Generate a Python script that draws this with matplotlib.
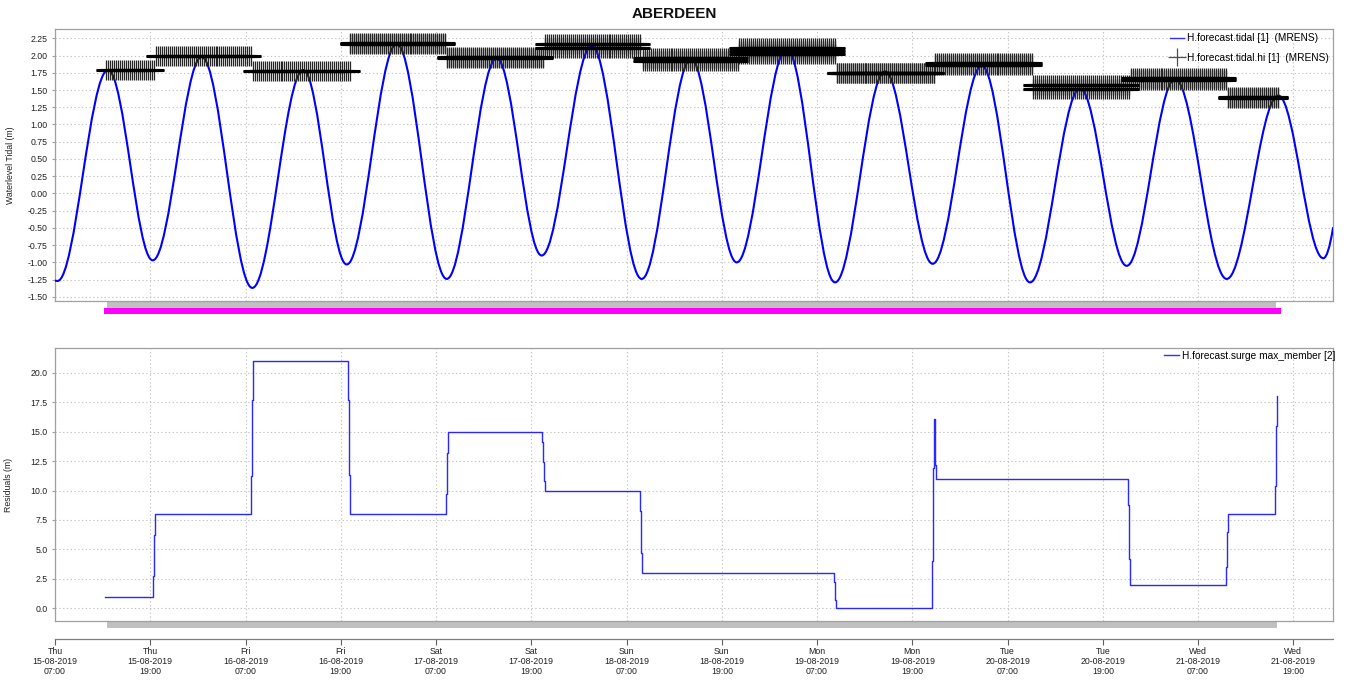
import numpy as np
import matplotlib
matplotlib.use('Agg')
import matplotlib.pyplot as plt
import matplotlib.dates as mdates
import matplotlib.transforms as mtransforms
from matplotlib.path import Path
from matplotlib.patches import PathPatch, Rectangle
from matplotlib.lines import Line2D
from datetime import datetime

plt.rcParams['font.family'] = ['Liberation Sans', 'DejaVu Sans']

# ---------------- data (hours after 15-08-2019 07:00) ----------------
START = datetime(2019, 8, 15, 7, 0)
END = datetime(2019, 8, 22, 0, 0)

# tidal curve: start, successive low / high waters, end
tide_hours = [0.0, 0.31, 6.68, 12.31, 18.48, 24.86, 31.28, 36.75, 43.05, 49.35,
              55.64, 61.31, 67.61, 73.91, 80.12, 85.88, 92.18, 98.27, 104.56,
              110.57, 116.75, 122.83, 129.13, 135.01, 141.10, 147.61, 154.11,
              159.78, 161.0]
tide_levels = [-1.265, -1.27, 1.79, -0.97, 1.98, -1.37, 1.79, -1.03, 2.17, -1.24,
               1.96, -0.90, 2.14, -1.24, 1.95, -1.00, 2.10, -1.29, 1.77,
               -1.02, 1.85, -1.29, 1.52, -1.05, 1.66, -1.24, 1.42,
               -0.94, -0.50]

# high-water ensemble markers: window start / end and member levels
hi_start_hours = [6.42, 12.72, 24.91, 37.16, 49.42, 61.73, 74.04, 86.21, 98.48,
                  110.86, 123.25, 135.52, 147.81]
hi_end_hours = [12.60, 24.78, 37.16, 49.26, 61.52, 73.79, 86.17, 98.35, 110.86,
                123.17, 135.34, 147.61, 154.11]
hi_levels = [[1.79], [2.00], [1.78], [2.18, 2.165], [1.985, 1.96], [2.17, 2.11],
             [1.96, 1.92], [2.11, 2.06, 2.02], [1.75, 1.74], [1.885, 1.87],
             [1.57, 1.51], [1.67, 1.645], [1.40, 1.39]]

# surge max member (step series)
surge_hours = [6.34, 12.38, 12.50, 12.63, 24.73, 24.86, 24.98, 36.95, 37.04, 37.13,
               49.22, 49.35, 49.47, 61.39, 61.52, 61.64, 61.77, 73.70, 73.82, 73.99,
               98.18, 98.30, 98.43, 110.52, 110.65, 110.77, 110.86, 110.90, 110.95,
               110.99, 135.21, 135.34, 135.47, 147.56, 147.69, 147.81, 153.70,
               153.82, 153.95, 153.96]
surge_values = [1.0, 2.7, 6.2, 8.0, 11.2, 17.7, 21.0, 17.7, 11.3, 8.0,
                9.7, 13.2, 15.0, 14.1, 12.4, 10.8, 10.0, 8.3, 4.7, 3.0,
                2.2, 0.7, 0.0, 4.0, 11.9, 16.1, 14.7, 12.2, 11.0,
                11.0, 8.8, 4.2, 2.0, 3.5, 6.5, 8.0, 10.4,
                15.5, 18.0, 18.0]

# data-availability bars under the plots
tidal_avail = (6.55, 153.8)
tidal_range_bar = (6.21, 154.4)
surge_avail = (6.55, 153.95)

tide_label = 'H.forecast.tidal [1]  (MRENS)'
hi_label = 'H.forecast.tidal.hi [1]  (MRENS)'
surge_label = 'H.forecast.surge max_member [2]'

# ---------------- helpers ----------------
t0 = mdates.date2num(START)


def to_num(h):
    return t0 + np.asarray(h, dtype=float) / 24.0


W, H = 1349, 681
fig = plt.figure(figsize=(W / 100, H / 100), dpi=100)
fig.patch.set_facecolor('white')

L, R = 55, 1333
ax1 = fig.add_axes([L / W, (H - 301) / H, (R - L) / W, 272 / H])
ax2 = fig.add_axes([L / W, (H - 621) / H, (R - L) / W, 273 / H])

spine_col = '#a0a0a0'
grid_kw = dict(color='#c4c4c4', linestyle=(0, (1.2, 2.2)), linewidth=0.8)
FS = 6.3
LFS = 7.3

for ax in (ax1, ax2):
    for s in ax.spines.values():
        s.set_color(spine_col)
        s.set_linewidth(0.9)
    ax.set_xlim(to_num(0), mdates.date2num(END))
    ax.xaxis.set_major_locator(mdates.HourLocator(byhour=[7, 19]))
    ax.tick_params(axis='x', length=0, labelbottom=False)
    ax.tick_params(axis='y', length=2.5, color=spine_col, labelsize=FS,
                   labelcolor='#202020', pad=3)
    ax.grid(True, **grid_kw)
    ax.set_axisbelow(True)

# ---------------- top: tidal ----------------
tx = to_num(tide_hours)
tz = np.asarray(tide_levels)
k = 1 - 2 / np.pi
verts = [(tx[0], tz[0])]
codes = [Path.MOVETO]
for i in range(len(tx) - 1):
    d = tx[i + 1] - tx[i]
    if i == len(tx) - 2:
        verts += [(tx[i] + 0.5 * d, tz[i]), (tx[i + 1], tz[i + 1])]
        codes += [Path.CURVE3] * 2
    else:
        verts += [(tx[i] + k * d, tz[i]), (tx[i + 1] - k * d, tz[i + 1]),
                  (tx[i + 1], tz[i + 1])]
        codes += [Path.CURVE4] * 3
ax1.add_patch(PathPatch(Path(verts, codes), fill=False, edgecolor='#0000ff',
                        linewidth=1.5, joinstyle='round', capstyle='round', zorder=3))

# high-water crosses: thin '+' markers, with the overlapping horizontal arms
# rendered as the heavy black bar seen in the source
for s, e, lvls in zip(hi_start_hours, hi_end_hours, hi_levels):
    hh = np.arange(s, e + 1e-6, 0.25)
    for lv in lvls:
        xs = to_num(hh)
        ys = np.full(len(hh), lv)
        ax1.plot(xs, ys, linestyle='none', marker='+', markersize=15,
                 markeredgewidth=0.9, color='#262626', zorder=4)
        ax1.plot(xs, ys, linestyle='none', marker='_', markersize=15,
                 markeredgewidth=2.2, color='#000000', zorder=5)

ax1.set_ylim(-1.56, 2.385)
ax1.set_yticks(np.arange(-1.5, 2.26, 0.25))
ax1.yaxis.set_major_formatter(matplotlib.ticker.FormatStrFormatter('%.2f'))
ax1.set_ylabel('Waterlevel Tidal (m)', fontsize=FS, color='#202020')
ax1.yaxis.set_label_coords(-40 / (R - L), 0.5)

handles = [Line2D([], [], color='#3030ff', lw=1.0),
           Line2D([], [], linestyle='none', marker='+', markersize=13,
                  markeredgewidth=0.9, color='#505050')]
ax1.legend(handles, [tide_label, hi_label], loc='upper right', frameon=False,
           fontsize=LFS, handlelength=1.4, handletextpad=0.3,
           borderaxespad=0.1, labelspacing=0.95, borderpad=0.3)

trans1 = mtransforms.blended_transform_factory(ax1.transData, ax1.transAxes)
ax1.add_patch(Rectangle((to_num(tidal_avail[0]), -7 / 272),
                        to_num(tidal_avail[1]) - to_num(tidal_avail[0]), 7 / 272,
                        transform=trans1, clip_on=False, facecolor='#c0c0c0',
                        edgecolor='none'))
ax1.add_patch(Rectangle((to_num(tidal_range_bar[0]), -13 / 272),
                        to_num(tidal_range_bar[1]) - to_num(tidal_range_bar[0]), 6 / 272,
                        transform=trans1, clip_on=False, facecolor='#ff00ff',
                        edgecolor='none'))

# ---------------- bottom: surge ----------------
ax2.plot(to_num(surge_hours), surge_values, drawstyle='steps-post',
         color='#2828ff', linewidth=1.0, zorder=3)
ax2.set_ylim(-1.08, 22.1)
ax2.set_yticks(np.arange(0, 20.01, 2.5))
ax2.yaxis.set_major_formatter(matplotlib.ticker.FormatStrFormatter('%.1f'))
ax2.set_ylabel('Residuals (m)', fontsize=FS, color='#202020')
ax2.yaxis.set_label_coords(-42 / (R - L), 0.5)
ax2.legend([Line2D([], [], color='#3030ff', lw=1.0)], [surge_label],
           loc='upper right', frameon=False, fontsize=LFS, handlelength=1.4,
           handletextpad=0.3, borderaxespad=0.0, borderpad=0.3,
           bbox_to_anchor=(1.004, 1.0))

trans2 = mtransforms.blended_transform_factory(ax2.transData, ax2.transAxes)
ax2.add_patch(Rectangle((to_num(surge_avail[0]), -6.5 / 273),
                        to_num(surge_avail[1]) - to_num(surge_avail[0]), 6.5 / 273,
                        transform=trans2, clip_on=False, facecolor='#c0c0c0',
                        edgecolor='none'))

# time axis below the lower plot
sec = ax2.secondary_xaxis(-18 / 273)
sec.xaxis.set_major_locator(mdates.HourLocator(byhour=[7, 19]))
sec.xaxis.set_major_formatter(mdates.DateFormatter('%a\n%d-%m-%Y\n%H:%M'))
sec.tick_params(axis='x', length=4, color='#606060', labelsize=FS,
                labelcolor='#202020', pad=1.5)
sec.spines['bottom'].set_color('#808080')
sec.spines['bottom'].set_linewidth(0.9)
for lbl in sec.get_xticklabels():
    lbl.set_linespacing(1.15)

fig.text(0.5, 1 - 14 / H, 'ABERDEEN', ha='center', va='center', fontsize=11,
         fontweight='bold', color='#101010')

fig.savefig('out.png', dpi=100, facecolor='white')
